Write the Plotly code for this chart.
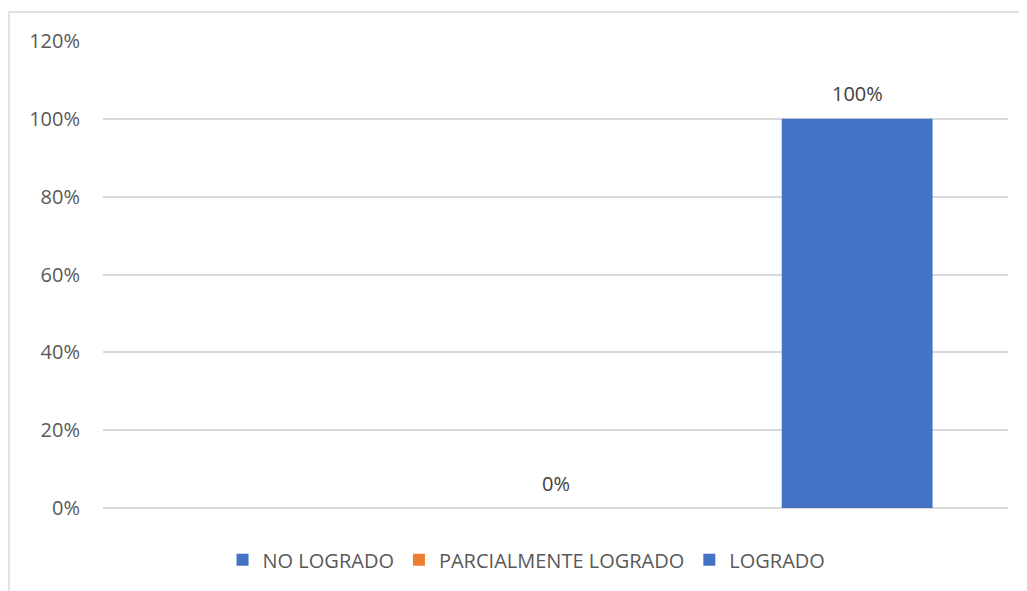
import plotly.graph_objects as go

categories = ["NO LOGRADO", "PARCIALMENTE LOGRADO", "LOGRADO"]
values = [None, 0.0, 1.0]
labels = ["", "0%", "100%"]
colors = ["#4472C4", "#ED7D31", "#4472C4"]
y_ticks = [0, 0.2, 0.4, 0.6, 0.8, 1.0, 1.2]
y_tick_text = ["0%", "20%", "40%", "60%", "80%", "100%", "120%"]

FONT = "Open Sans"
FS = 20

fig = go.Figure()
for cat, val, col in zip(categories, values, colors):
    fig.add_trace(go.Bar(
        x=[cat], y=[val], name=cat, marker=dict(color=col, line=dict(width=0)),
        width=0.5, showlegend=True,
    ))

# data labels
for cat, val, lab in zip(categories, values, labels):
    if val is None or lab == "":
        continue
    fig.add_annotation(x=cat, y=val, text=lab, showarrow=False,
                       yanchor="middle", yshift=25,
                       font=dict(family=FONT, size=FS, color="#404040"))

fig.update_layout(
    width=1019, height=583,
    margin=dict(l=95, r=19, t=33, b=83),
    paper_bgcolor="white", plot_bgcolor="white",
    barmode="overlay",
    font=dict(family=FONT, size=FS, color="#595959"),
    legend=dict(orientation="h", x=0.468, xanchor="center", y=-0.111, yanchor="middle",
                font=dict(family=FONT, size=FS, color="#595959"),
                itemclick=False, traceorder="normal"),
    xaxis=dict(showticklabels=False, showgrid=False, zeroline=False, showline=False,
               ticks="", categoryorder="array", categoryarray=categories),
    yaxis=dict(range=[0, 1.2], tickvals=y_ticks, ticktext=y_tick_text,
               showgrid=True, gridcolor="#D9D9D9", gridwidth=1.5,
               zeroline=True, zerolinecolor="#D9D9D9", zerolinewidth=1.5,
               showline=False, ticks="", ticklabelstandoff=22,
               tickfont=dict(family=FONT, size=FS, color="#595959")),
)

# chart area border
fig.add_shape(type="rect", xref="paper", yref="paper",
              x0=(1 - 95) / 905, x1=1.2, y0=-0.5, y1=(500 - 4) / 467,
              line=dict(color="#D9D9D9", width=1.5), fillcolor="rgba(0,0,0,0)", layer="below")

fig.write_html("out.html")
